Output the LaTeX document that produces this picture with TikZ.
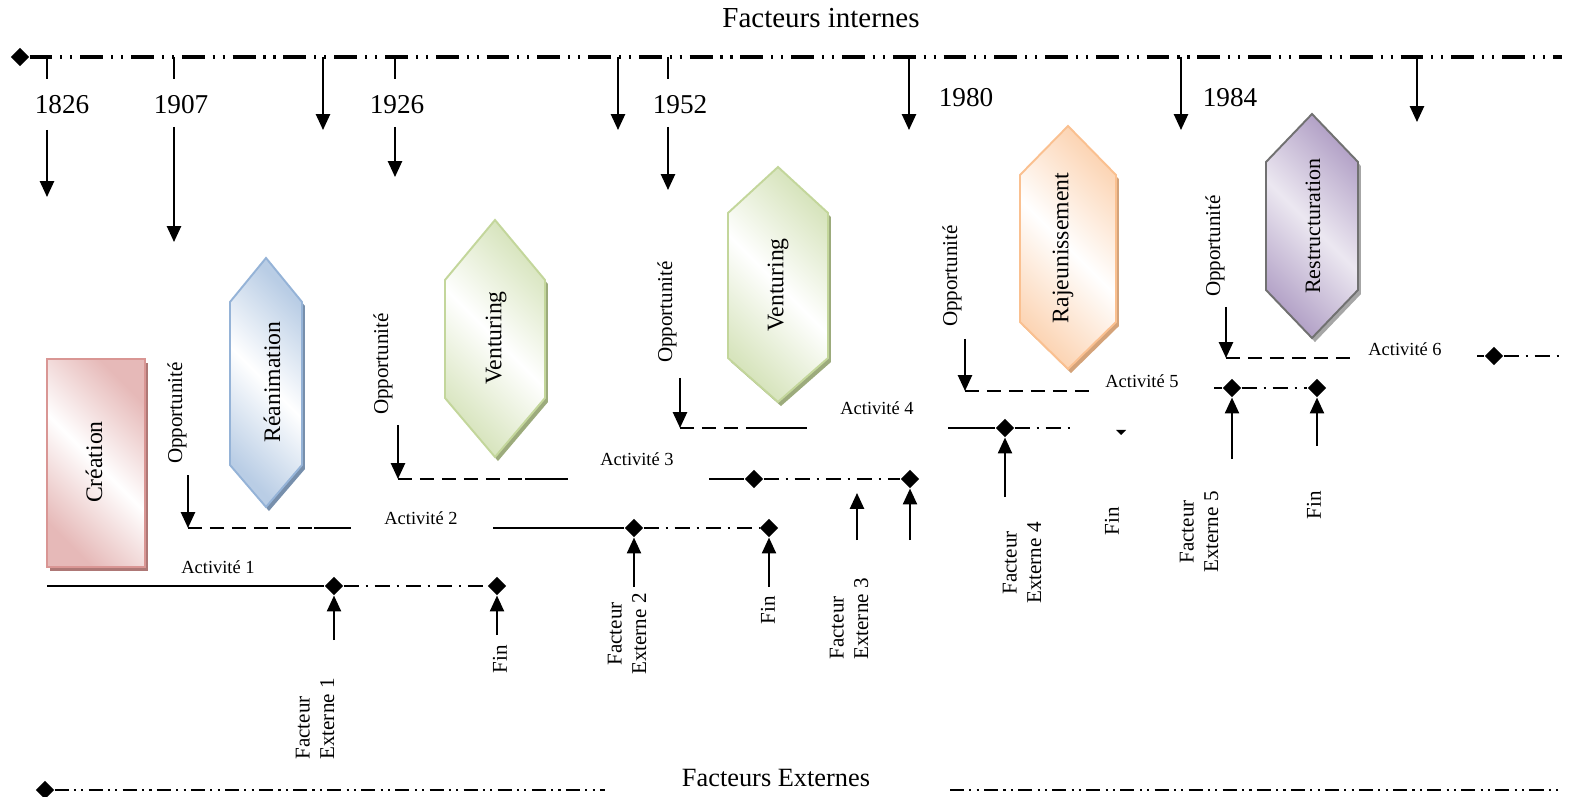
\documentclass[tikz,border=0pt]{standalone}
\usepackage{fontspec}
\setmainfont{Liberation Serif}
\usepackage{tikz}
\usetikzlibrary{shapes.geometric}
\usetikzlibrary{arrows.meta}
\usetikzlibrary{shadows}
\definecolor{rosebord}{HTML}{D99694}
\definecolor{rosefond}{HTML}{E6B9B8}
\definecolor{bleubord}{HTML}{95B3D7}
\definecolor{bleufond}{HTML}{B9CDE5}
\definecolor{vertbord}{HTML}{C3D69B}
\definecolor{vertfond}{HTML}{D7E4BD}
\definecolor{orangebord}{HTML}{FAC090}
\definecolor{orangefond}{HTML}{FCD5B5}
\definecolor{grisbord}{HTML}{717171}
\definecolor{mauvefond}{HTML}{B3A2C7}
\tikzstyle{fleche}=[-{Triangle[width=8pt,length=9pt]},line width=1.1pt]
\tikzstyle{losange}=[diamond,fill=black,inner sep=0pt,minimum width=10.5pt,minimum height=10.5pt]
\tikzstyle{axeint}=[line width=1.8pt,dash pattern=on 13pt off 4.5pt on 1.2pt off 4.5pt on 1.2pt off 4.5pt]
\tikzstyle{axeext}=[line width=1.5pt,dash pattern=on 8pt off 3pt on 1.2pt off 3pt on 1.2pt off 3pt]
\tikzstyle{activ}=[line width=0.9pt]
\tikzstyle{oppor}=[line width=1pt,dash pattern=on 8pt off 4.5pt]
\tikzstyle{rupture}=[line width=1pt,dash pattern=on 8.5pt off 4pt on 1.2pt off 4pt]
\tikzstyle{titre}=[font=\fontsize{16.5}{19}\selectfont]
\tikzstyle{annee}=[font=\fontsize{15.5}{18}\selectfont,inner sep=0pt]
\tikzstyle{etiq}=[font=\fontsize{10.5}{12}\selectfont,inner sep=0pt]
\tikzstyle{tourne}=[rotate=90,font=\fontsize{12}{14}\selectfont,inner sep=0pt]
\tikzstyle{phase}=[rotate=90,font=\fontsize{13.5}{16}\selectfont,inner sep=0pt]
\tikzstyle{forme}=[line width=1.1pt]
\tikzstyle{formerose}=[forme,draw=rosebord,top color=rosefond,bottom color=rosefond,middle color=white,shading angle=-45,
  drop shadow={shadow xshift=1.7pt,shadow yshift=-2.3pt,fill=rosebord!80!black,opacity=1}]
\tikzstyle{formebleu}=[forme,draw=bleubord,top color=bleufond,bottom color=bleufond,middle color=white,shading angle=-45,
  drop shadow={shadow xshift=1.7pt,shadow yshift=-2.3pt,fill=bleubord!80!black,opacity=1}]
\tikzstyle{formevert}=[forme,draw=vertbord,top color=vertfond,bottom color=vertfond,middle color=white,shading angle=-45,
  drop shadow={shadow xshift=1.7pt,shadow yshift=-2.3pt,fill=vertbord!80!black,opacity=1}]
\tikzstyle{formeorange}=[forme,draw=orangebord,top color=orangefond,bottom color=orangefond,middle color=white,shading angle=-45,
  drop shadow={shadow xshift=1.7pt,shadow yshift=-2.3pt,fill=orangebord!85!black,opacity=1}]
\tikzstyle{formemauve}=[forme,draw=grisbord,top color=mauvefond,bottom color=mauvefond,middle color=mauvefond!25,shading angle=-45,
  drop shadow={shadow xshift=1.7pt,shadow yshift=-2.3pt,fill=black!35,opacity=1}]
\begin{document}
\begin{tikzpicture}[x=0.02cm,y=-0.02cm]
\useasboundingbox (0,0) rectangle (1570,797);
%Titres
\node[titre] (internes) at (821,18) {Facteurs internes};
\node[titre,font=\fontsize{15}{18}\selectfont] (externes) at (776,778) {Facteurs Externes};
%Axe du haut
\node[losange] (hdeb) at (20,57) {};
\coordinate (hfin) at (1562,57);
\draw[axeint] (hdeb) -- (hfin);
%Axe du bas
\node[losange] (bdeb) at (45,790) {};
\coordinate (bfin) at (605,790);
\coordinate (bdeb2) at (950,790);
\coordinate (bfin2) at (1562,790);
\draw[axeext] (bdeb) -- (bfin);
\draw[axeext] (bdeb2) -- (bfin2);
%Annees
\foreach \an/\x/\lx/\ya/\yb in {1826/47/62/130/197,1907/174/181/127/242,1926/395/397/127/177,1952/668/680/127/190}{
  \coordinate (h\an) at (\x,57);
  \coordinate (t\an) at (\x,79);
  \node[annee] (an\an) at (\lx,105) {\an};
  \coordinate (d\an) at (\x,\ya);
  \coordinate (f\an) at (\x,\yb);
  \draw[line width=1.1pt] (h\an) -- (t\an);
  \draw[fleche] (d\an) -- (f\an);
}
\node[annee] (an1980) at (966,98) {1980};
\node[annee] (an1984) at (1230,98) {1984};
\foreach \x/\y in {323/130,618/130,909/130,1181/130,1417/122}{
  \coordinate (hf\x) at (\x,57);
  \coordinate (bf\x) at (\x,\y);
  \draw[fleche] (hf\x) -- (bf\x);
}
%Phases
\draw[formerose] (47,359) rectangle (145,567);
\node[phase] (creation) at (94,462) {Création};
\draw[formebleu] (266,258) -- (302,302) -- (302,465) -- (266,507) -- (230,465) -- (230,302) -- cycle;
\node[phase] (reanimation) at (272,382) {Réanimation};
\draw[formevert] (495,220) -- (545,280) -- (545,398) -- (495,457) -- (445,398) -- (445,280) -- cycle;
\node[phase] (venturing1) at (496,338) {Venturing};
\draw[formevert] (778,167) -- (828,213) -- (828,358) -- (778,402) -- (728,358) -- (728,213) -- cycle;
\node[phase] (venturing2) at (778,285) {Venturing};
\draw[formeorange] (1068,126) -- (1116,175) -- (1116,322) -- (1068,369) -- (1020,322) -- (1020,175) -- cycle;
\node[phase] (rajeunissement) at (1063,248) {Rajeunissement};
\draw[formemauve] (1312,114) -- (1358,162) -- (1358,290) -- (1312,338) -- (1266,290) -- (1266,162) -- cycle;
\node[phase,font=\fontsize{12.5}{15}\selectfont] (restructuration) at (1313,226) {Restructuration};
%Activite 1
\node[etiq] (act1) at (218,567) {Activité 1};
\coordinate (a1deb) at (47,586);
\node[losange] (a1fe) at (334,586) {};
\node[losange] (a1fin) at (497,586) {};
\draw[activ] (a1deb) -- (a1fe);
\draw[rupture] (a1fe) -- (a1fin);
\coordinate (fe1) at (334,640);
\coordinate (fin1) at (497,635);
\draw[fleche] (fe1) -- (a1fe);
\draw[fleche] (fin1) -- (a1fin);
\node[tourne,align=left,anchor=west] (tfe1) at (315,760) {Facteur\\Externe 1};
\node[tourne] (tfin1) at (500,659) {Fin};
%Opportunite 1
\node[tourne] (opp1) at (177,413) {Opportunité};
\coordinate (o1h) at (188,475);
\coordinate (o1b) at (188,528);
\coordinate (o1m) at (314,528);
\coordinate (o1f) at (351,528);
\draw[fleche] (o1h) -- (o1b);
\draw[oppor] (o1b) -- (o1m);
\draw[activ] (o1m) -- (o1f);
%Activite 2
\node[etiq] (act2) at (421,518) {Activité 2};
\coordinate (a2deb) at (493,528);
\node[losange] (a2fe) at (634,528) {};
\node[losange] (a2fin) at (769,528) {};
\draw[activ] (a2deb) -- (a2fe);
\draw[rupture] (a2fe) -- (a2fin);
\coordinate (fe2) at (634,587);
\coordinate (fin2) at (769,587);
\draw[fleche] (fe2) -- (a2fe);
\draw[fleche] (fin2) -- (a2fin);
\node[tourne,align=center] (tfe2) at (627,634) {Facteur\\Externe 2};
\node[tourne] (tfin2) at (768,610) {Fin};
%Opportunite 2
\node[tourne] (opp2) at (383,364) {Opportunité};
\coordinate (o2h) at (398,425);
\coordinate (o2b) at (398,479);
\coordinate (o2m) at (525,479);
\coordinate (o2f) at (568,479);
\draw[fleche] (o2h) -- (o2b);
\draw[oppor] (o2b) -- (o2m);
\draw[activ] (o2m) -- (o2f);
%Activite 3
\node[etiq] (act3) at (637,459) {Activité 3};
\coordinate (a3deb) at (709,479);
\node[losange] (a3rup) at (754,479) {};
\node[losange] (a3fin) at (910,479) {};
\draw[activ] (a3deb) -- (a3rup);
\draw[rupture] (a3rup) -- (a3fin);
\coordinate (fe3) at (857,540);
\coordinate (fe3h) at (857,493);
\coordinate (fin3) at (910,540);
\draw[fleche] (fe3) -- (fe3h);
\draw[fleche] (fin3) -- (a3fin);
\node[tourne,align=left,anchor=west] (tfe3) at (849,660) {Facteur\\Externe 3};
%Opportunite 3
\node[tourne] (opp3) at (667,312) {Opportunité};
\coordinate (o3h) at (680,378);
\coordinate (o3b) at (680,428);
\coordinate (o3m) at (760,428);
\coordinate (o3f) at (807,428);
\draw[fleche] (o3h) -- (o3b);
\draw[oppor] (o3b) -- (o3m);
\draw[activ] (o3m) -- (o3f);
%Activite 4
\node[etiq] (act4) at (877,408) {Activité 4};
\coordinate (a4deb) at (948,428);
\node[losange] (a4fe) at (1005,428) {};
\coordinate (a4fin) at (1073,428);
\draw[activ] (a4deb) -- (a4fe);
\draw[rupture] (a4fe) -- (a4fin);
\coordinate (fe4) at (1005,497);
\draw[fleche] (fe4) -- (a4fe);
\fill (1116,430) -- (1126,430) -- (1121,435) -- cycle;
\node[tourne,align=center] (tfe4) at (1022,563) {Facteur\\Externe 4};
\node[tourne] (tfin4) at (1112,521) {Fin};
%Opportunite 4
\node[tourne] (opp4) at (952,276) {Opportunité};
\coordinate (o4h) at (965,339);
\coordinate (o4b) at (965,391);
\coordinate (o4f) at (1089,391);
\draw[fleche] (o4h) -- (o4b);
\draw[oppor] (o4b) -- (o4f);
%Activite 5
\node[etiq] (act5) at (1142,381) {Activité 5};
\coordinate (a5deb) at (1214,388);
\node[losange] (a5fe) at (1232,388) {};
\node[losange] (a5fin) at (1317,388) {};
\draw[activ] (a5deb) -- (a5fe);
\draw[rupture] (a5fe) -- (a5fin);
\coordinate (fe5) at (1232,459);
\coordinate (fin5) at (1317,446);
\draw[fleche] (fe5) -- (a5fe);
\draw[fleche] (fin5) -- (a5fin);
\node[tourne,align=center] (tfe5) at (1199,532) {Facteur\\Externe 5};
\node[tourne] (tfin5) at (1314,505) {Fin};
%Opportunite 5
\node[tourne] (opp5) at (1215,246) {Opportunité};
\coordinate (o5h) at (1226,307);
\coordinate (o5b) at (1226,358);
\coordinate (o5f) at (1352,358);
\draw[fleche] (o5h) -- (o5b);
\draw[oppor] (o5b) -- (o5f);
%Activite 6
\node[etiq] (act6) at (1405,349) {Activité 6};
\coordinate (a6deb) at (1477,356);
\node[losange] (a6fe) at (1494,356) {};
\coordinate (a6fin) at (1560,356);
\draw[activ] (a6deb) -- (a6fe);
\draw[rupture] (a6fe) -- (a6fin);
\end{tikzpicture}
\end{document}
